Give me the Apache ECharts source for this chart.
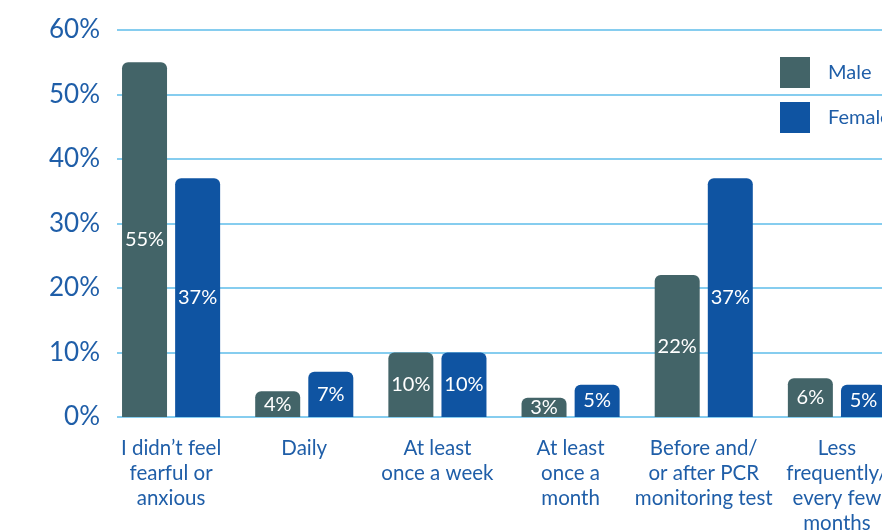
<!DOCTYPE html>
<html>
<head>
<meta charset="utf-8">
<script src="https://cdn.jsdelivr.net/npm/echarts@6/dist/echarts.min.js"></script>
<style>
  html, body { margin: 0; padding: 0; background: #ffffff; overflow: hidden; width: 882px; height: 532px; }
  #chart { width: 940px; height: 532px; }
</style>
</head>
<body>
<div id="chart"></div>
<script>
// Frequency of feeling fearful or anxious, by gender (percent of respondents)
const categories = [
  'I didn\u2019t feel\nfearful or\nanxious',
  'Daily',
  'At least\nonce a week',
  'At least\nonce a\nmonth',
  'Before and/\nor after PCR\nmonitoring test',
  'Less\nfrequently/\nevery few\nmonths'
];
const maleValues = [55, 4, 10, 3, 22, 6];
const femaleValues = [37, 7, 10, 5, 37, 5];
const yTicks = [0, 10, 20, 30, 40, 50, 60];

const BLUE_TEXT = '#1f5ea8';
const MALE = '#436468';
const FEMALE = '#0f54a2';
const GRID_LINE = '#86cdef';
const FONT = 'Lato, "Open Sans", sans-serif';

const chart = echarts.init(document.getElementById('chart'), null, { renderer: 'canvas' });

const barLabel = {
  show: true,
  position: 'inside',
  color: '#ffffff',
  fontFamily: FONT,
  fontSize: 20,
  formatter: p => p.value + '%'
};

chart.setOption({
  animation: false,
  textStyle: { fontFamily: FONT },
  legend: {
    orient: 'vertical',
    left: 780,
    top: 57,
    padding: 0,
    itemWidth: 30,
    itemHeight: 31,
    itemGap: 14,
    icon: 'rect',
    textStyle: { color: BLUE_TEXT, fontSize: 20, fontFamily: FONT, padding: [0, 0, 0, 13] },
    data: ['Male', 'Female']
  },
  grid: [
    // value scale and horizontal rules
    { left: 117, top: 30, height: 387, width: 800, outerBoundsMode: 'none', containLabel: false },
    // bars and category labels
    { left: 104.5, top: 30, height: 387, width: 799, outerBoundsMode: 'none', containLabel: false }
  ],
  xAxis: [
    { type: 'category', gridIndex: 0, data: categories, show: false },
    {
      type: 'category',
      gridIndex: 1,
      data: categories,
      axisLine: { show: false },
      axisTick: { show: false },
      axisLabel: {
        color: BLUE_TEXT,
        fontSize: 20.5,
        fontFamily: FONT,
        lineHeight: 25,
        margin: 19,
        interval: 0,
        align: 'center'
      }
    }
  ],
  yAxis: [
    {
      type: 'value',
      gridIndex: 0,
      min: yTicks[0],
      max: yTicks[yTicks.length - 1],
      interval: yTicks[1] - yTicks[0],
      axisLine: { show: false },
      axisTick: { show: false },
      axisLabel: {
        color: BLUE_TEXT,
        fontSize: 26,
        fontFamily: FONT,
        margin: 17,
        formatter: '{value}%'
      },
      splitLine: { show: true, lineStyle: { color: GRID_LINE, width: 2 } }
    },
    {
      type: 'value',
      gridIndex: 1,
      min: yTicks[0],
      max: yTicks[yTicks.length - 1],
      interval: yTicks[1] - yTicks[0],
      show: false,
      splitLine: { show: false }
    }
  ],
  series: [
    {
      name: 'Male',
      type: 'bar',
      xAxisIndex: 1,
      yAxisIndex: 1,
      data: maleValues,
      barWidth: 45,
      barGap: '18%',
      itemStyle: { color: MALE, borderRadius: [6, 6, 0, 0] },
      label: barLabel
    },
    {
      name: 'Female',
      type: 'bar',
      xAxisIndex: 1,
      yAxisIndex: 1,
      data: femaleValues,
      barWidth: 45,
      itemStyle: { color: FEMALE, borderRadius: [6, 6, 0, 0] },
      label: barLabel
    }
  ]
});
</script>
</body>
</html>
